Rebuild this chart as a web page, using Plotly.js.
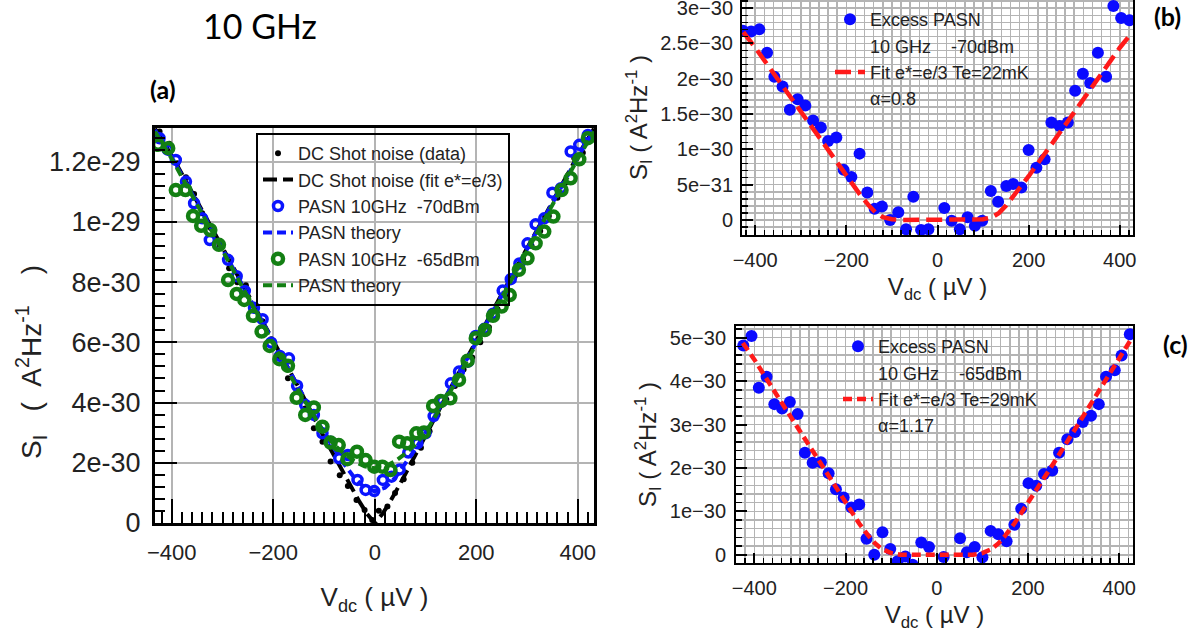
<!DOCTYPE html>
<html>
<head>
<meta charset="utf-8">
<script src="https://cdn.plot.ly/plotly-3.0.1.min.js"></script>
<style>html,body{margin:0;padding:0;background:#fff;}#chart{width:1196px;height:639px;}</style>
</head>
<body>
<div id="chart"></div>
<script>
// ---------- Panel (a): shot noise, values in units of 1e-30 A^2/Hz ----------
const dcDataV = [-424,-405,-389,-372,-356,-340,-323,-306,-287,-271,-254,-238,-221,-204,-187,-171,-154,-137,-120,-103,-87,-69,-53,-36,-20,-5,8,25,40,57,74,91,108,124,141,158,175,192,208,225,242,259,276,292,309,326,343,360,376,393,410,426];
const dcDataS = [13.0,12.6,11.95,11.48,10.93,10.29,9.8,9.25,8.46,8.0,7.9,7.2,6.7,6.1,5.5,4.81,4.4,3.8,3.15,2.7,2.04,1.59,1.23,0.76,0.43,0.1,0.41,0.55,1.0,1.45,2.0,2.5,3.05,3.6,4.1,4.55,5.1,5.5,6.0,6.5,7.1,7.6,8.2,8.76,9.2,9.7,10.2,10.8,11.3,12.12,12.3,12.9];
const dcFitV = [-433,-400,-300,-200,-150,-100,-70,-50,-30,-15,0,15,30,50,70,100,150,200,300,400,432];
const dcFitS = [13.1,12.2,9.15,6.05,4.5,2.85,1.9,1.3,0.7,0.3,0.0,0.3,0.7,1.3,1.95,2.9,4.5,6.05,9.15,12.2,13.1];
const pasn70V = [-424,-408,-392,-372,-356,-340,-325,-307,-289,-272,-256,-238,-221,-204,-187,-169,-153,-137,-120,-103,-87,-70,-53,-34,-18,-1,16,33,49,66,84,100,116,133,150,166,184,199,216,233,252,268,285,301,317,334,350,367,386,403,420];
const pasn70S = [12.78,12.40,12.06,11.34,10.62,10.12,9.40,9.24,8.74,8.20,7.71,7.15,6.77,5.99,5.55,5.47,4.56,3.92,3.59,2.98,2.70,2.15,2.26,1.43,1.10,1.06,1.43,1.54,1.78,2.34,2.65,2.98,3.55,4.05,4.64,5.03,5.36,6.21,6.45,6.95,7.72,8.10,8.62,9.29,9.92,10.12,10.97,11.12,12.34,12.56,12.89];
const theory70V = [-433,-400,-300,-200,-150,-100,-80,-60,-40,-20,0,20,40,60,80,100,150,200,300,400,432];
const theory70S = [13.05,12.15,9.1,6.0,4.5,3.0,2.45,1.95,1.5,1.17,1.05,1.17,1.5,1.95,2.45,3.0,4.5,6.0,9.1,12.15,13.05];
const pasn65V = [-427,-407,-392,-373,-358,-342,-324,-307,-289,-272,-257,-240,-223,-207,-188,-171,-154,-137,-120,-103,-87,-71,-54,-35,-18,-1,15,31,48,64,82,97,115,130,149,166,183,199,217,233,250,266,284,301,317,334,352,368,386,403,420];
const pasn65S = [12.56,12.45,11.06,11.06,10.20,9.87,9.73,9.24,8.07,7.61,7.41,6.88,6.36,5.88,5.44,5.22,4.16,3.59,3.84,3.20,2.67,2.59,2.12,2.37,2.09,1.87,1.87,1.76,2.70,2.65,2.98,3.01,3.89,4.05,4.14,4.75,5.39,6.14,6.41,6.88,7.19,7.57,8.41,8.79,9.29,9.68,10.18,11.06,11.45,12.08,12.78];
const theory65V = [-433,-400,-300,-200,-150,-100,-80,-60,-40,-20,0,20,40,60,80,100,150,200,300,400,432];
const theory65S = [13.0,12.1,9.05,5.95,4.4,3.0,2.6,2.3,2.05,1.88,1.82,1.88,2.05,2.3,2.6,3.0,4.4,5.95,9.05,12.1,13.0];
const aTickVals = [0,2,4,6,8,10,12];
const aTickText = ['0','2e-30','4e-30','6e-30','8e-30','1e-29','1.2e-29'];

// ---------- Panel (b): excess PASN -70 dBm ----------
const exc70V = [-427,-409,-391,-374,-358,-340,-324,-307,-290,-273,-256,-240,-222,-206,-189,-171,-154,-138,-122,-104,-86,-69,-53,-36,-20,15,31,49,66,82,98,117,133,151,166,184,200,217,235,250,268,286,302,319,335,352,370,386,403,421];
const exc70S = [2.68,2.67,2.70,2.37,2.03,1.89,1.56,1.71,1.62,1.41,1.31,1.12,1.17,0.71,0.61,0.94,0.39,0.16,0.19,0.0,0.11,-0.13,0.33,-0.14,-0.13,0.17,-0.01,-0.13,0.04,-0.08,-0.01,0.41,0.26,0.48,0.51,0.46,0.99,0.74,0.86,1.38,1.33,1.38,1.83,2.07,1.94,2.37,2.03,3.03,2.86,2.83];
const fit70V = [-426,-400,-350,-300,-250,-200,-170,-150,-135,-120,-100,-80,0,80,100,120,135,150,170,200,250,300,350,400,424];
const fit70S = [2.66,2.44,1.99,1.53,1.07,0.62,0.36,0.20,0.10,0.04,0.01,0.0,0.0,0.0,0.01,0.04,0.10,0.20,0.36,0.62,1.07,1.53,1.99,2.44,2.63];
const bTickVals = [0,0.5,1,1.5,2,2.5,3];
const bTickText = ['0','5e\u221231','1e\u221230','1.5e\u221230','2e\u221230','2.5e\u221230','3e\u221230'];

// ---------- Panel (c): excess PASN -65 dBm ----------
const exc65V = [-424,-406,-390,-373,-356,-339,-322,-305,-289,-272,-254,-237,-221,-204,-187,-170,-154,-137,-119,-102,-86,-69,-53,-34,-17,15,51,66,83,100,118,135,153,170,185,201,218,235,253,268,286,303,320,338,355,371,390,405,423];
const exc65S = [4.82,5.04,3.85,4.10,3.47,3.37,3.52,3.24,2.35,2.12,2.13,1.88,1.51,1.32,1.09,1.16,0.37,0.0,0.52,0.13,-0.15,-0.04,-0.23,0.28,0.18,-0.05,0.38,0.06,0.18,-0.06,0.55,0.47,0.31,0.69,1.06,1.65,1.59,1.86,1.94,2.35,2.66,2.83,3.06,3.20,3.47,4.10,4.25,4.59,5.08];
const fit65V = [-425,-400,-350,-300,-250,-200,-170,-150,-135,-120,-100,-80,0,80,100,120,135,150,170,200,250,300,350,400,425];
const fit65S = [4.88,4.50,3.67,2.84,2.01,1.19,0.72,0.44,0.26,0.13,0.04,0.0,0.0,0.0,0.04,0.13,0.26,0.44,0.72,1.19,2.01,2.84,3.67,4.50,4.95];
const cTickVals = [0,1,2,3,4,5];
const cTickText = ['0','1e\u221230','2e\u221230','3e\u221230','4e\u221230','5e\u221230'];

const FONT = 'Liberation Sans, Arial, sans-serif';
const TXT = '#222';
const GRID = '#b4b4b4';
const W = 1196, H = 639;
const px = v => v / W;
const py = v => 1 - v / H;
const NB = '\u00a0';

const traces = [
  {x: dcDataV, y: dcDataS, name: 'DC Shot noise (data)', mode: 'markers', type: 'scatter',
   marker: {color: 'black', size: 6}, xaxis: 'x', yaxis: 'y', legend: 'legend'},
  {x: dcFitV, y: dcFitS, name: 'DC Shot noise (fit e*=e/3)', mode: 'lines', type: 'scatter',
   line: {color: 'black', width: 4, dash: '14px,6px'}, xaxis: 'x', yaxis: 'y', legend: 'legend'},
  {x: pasn70V, y: pasn70S, name: 'PASN 10GHz' + NB + NB + '-70dBm', mode: 'markers', type: 'scatter',
   marker: {symbol: 'circle-open', color: '#0a14ff', size: 9, line: {width: 3.5, color: '#0a14ff'}}, xaxis: 'x', yaxis: 'y', legend: 'legend'},
  {x: theory70V, y: theory70S, name: 'PASN theory', mode: 'lines', type: 'scatter',
   line: {color: '#0a14ff', width: 4, dash: '9px,5px'}, xaxis: 'x', yaxis: 'y', legend: 'legend'},
  {x: pasn65V, y: pasn65S, name: 'PASN 10GHz' + NB + NB + '-65dBm', mode: 'markers', type: 'scatter',
   marker: {symbol: 'circle-open', color: '#137f13', size: 10, line: {width: 4.5, color: '#137f13'}}, xaxis: 'x', yaxis: 'y', legend: 'legend'},
  {x: theory65V, y: theory65S, name: 'PASN theory', mode: 'lines', type: 'scatter',
   line: {color: '#137f13', width: 4, dash: '9px,5px'}, xaxis: 'x', yaxis: 'y', legend: 'legend'},

  {x: exc70V, y: exc70S, name: 'Excess PASN', mode: 'markers', type: 'scatter',
   marker: {color: '#0a0aff', size: 12}, xaxis: 'x2', yaxis: 'y2', legend: 'legend2'},
  {x: [null], y: [null], name: '10 GHz' + NB + NB + NB + NB + '-70dBm', mode: 'lines', type: 'scatter',
   line: {width: 0, color: 'rgba(0,0,0,0)'}, xaxis: 'x2', yaxis: 'y2', legend: 'legend2', hoverinfo: 'skip'},
  {x: fit70V, y: fit70S, name: 'Fit e*=e/3 Te=22mK', mode: 'lines', type: 'scatter',
   line: {color: '#ff1a1a', width: 4.5, dash: '16px,7px'}, xaxis: 'x2', yaxis: 'y2', legend: 'legend2'},
  {x: [null], y: [null], name: '\u03b1=0.8', mode: 'lines', type: 'scatter',
   line: {width: 0, color: 'rgba(0,0,0,0)'}, xaxis: 'x2', yaxis: 'y2', legend: 'legend2', hoverinfo: 'skip'},

  {x: exc65V, y: exc65S, name: 'Excess PASN', mode: 'markers', type: 'scatter',
   marker: {color: '#0a0aff', size: 12}, xaxis: 'x3', yaxis: 'y3', legend: 'legend3'},
  {x: [null], y: [null], name: '10 GHz' + NB + NB + NB + NB + '-65dBm', mode: 'lines', type: 'scatter',
   line: {width: 0, color: 'rgba(0,0,0,0)'}, xaxis: 'x3', yaxis: 'y3', legend: 'legend3', hoverinfo: 'skip'},
  {x: fit65V, y: fit65S, name: 'Fit e*=e/3 Te=29mK', mode: 'lines', type: 'scatter',
   line: {color: '#ff1a1a', width: 4.5, dash: '9px,5px'}, xaxis: 'x3', yaxis: 'y3', legend: 'legend3'},
  {x: [null], y: [null], name: '\u03b1=1.17', mode: 'lines', type: 'scatter',
   line: {width: 0, color: 'rgba(0,0,0,0)'}, xaxis: 'x3', yaxis: 'y3', legend: 'legend3', hoverinfo: 'skip'}
];

function xAxisCommon(extra) {
  return Object.assign({
    tickmode: 'linear', tick0: 0, dtick: 200, ticks: 'inside', tickcolor: 'black',
    showgrid: true, gridcolor: GRID, zeroline: false, showline: true, linecolor: 'black',
    tickfont: {family: FONT, color: TXT}, ticklabeloverflow: 'allow'
  }, extra);
}

const layout = {
  width: W, height: H,
  margin: {l: 0, r: 0, t: 0, b: 0},
  paper_bgcolor: 'white', plot_bgcolor: 'white',
  showlegend: true,
  font: {family: FONT, color: TXT},
  xaxis: xAxisCommon({
    domain: [px(155), px(594)], range: [-433, 432], anchor: 'y',
    ticklen: 24, tickwidth: 2, gridwidth: 2, linewidth: 3, mirror: true,
    minor: {dtick: 20, tick0: 0, ticks: 'inside', ticklen: 11, tickwidth: 2, tickcolor: 'black', showgrid: false},
    tickfont: {family: FONT, color: TXT, size: 22}, ticklabelstandoff: 8,
    title: {text: 'V<sub>dc</sub> ( \u00b5V )', font: {size: 26, family: FONT, color: TXT}, standoff: 24}
  }),
  yaxis: {
    domain: [py(523), py(128)], range: [0, 13.12], anchor: 'x',
    tickmode: 'array', tickvals: aTickVals, ticktext: aTickText,
    ticks: 'inside', ticklen: 22, tickwidth: 2, tickcolor: 'black',
    minor: {dtick: 0.4, tick0: 0, ticks: 'inside', ticklen: 10, tickwidth: 2, tickcolor: 'black', showgrid: false},
    showgrid: true, gridcolor: GRID, gridwidth: 2, zeroline: false,
    showline: true, linecolor: 'black', linewidth: 3, mirror: true,
    tickfont: {family: FONT, color: TXT, size: 27}, ticklabelstandoff: 6, ticklabeloverflow: 'allow'
  },
  xaxis2: xAxisCommon({
    domain: [px(742), px(1133)], range: [-429, 429], anchor: 'y2',
    ticklen: 10, tickwidth: 2, gridwidth: 1.5, linewidth: 2, mirror: false,
    minor: {dtick: 20, tick0: 0, ticks: 'inside', ticklen: 5, tickwidth: 1.5, tickcolor: 'black', showgrid: true, gridcolor: GRID, gridwidth: 1.5},
    tickfont: {family: FONT, color: TXT, size: 20}, ticklabelstandoff: 6,
    title: {text: 'V<sub>dc</sub> ( \u00b5V )', font: {size: 24, family: FONT, color: TXT}, standoff: 8}
  }),
  yaxis2: {
    domain: [py(235), 1], range: [-0.2125, 3.116], anchor: 'x2',
    tickmode: 'array', tickvals: bTickVals, ticktext: bTickText,
    ticks: 'inside', ticklen: 11, tickwidth: 2, tickcolor: 'black',
    minor: {dtick: 0.1, tick0: 0, ticks: 'inside', ticklen: 6, tickwidth: 1.5, tickcolor: 'black', showgrid: true, gridcolor: GRID, gridwidth: 1.5},
    showgrid: true, gridcolor: GRID, gridwidth: 1.5, zeroline: false,
    showline: true, linecolor: 'black', linewidth: 2, mirror: true,
    tickfont: {family: FONT, color: TXT, size: 20}, ticklabelstandoff: 3, ticklabeloverflow: 'allow',
    title: {text: 'S<sub>I</sub> ( A<sup>2</sup>Hz<sup>-1</sup> )', font: {size: 24, family: FONT, color: TXT}, standoff: 6}
  },
  xaxis3: xAxisCommon({
    domain: [px(736), px(1133)], range: [-440, 430], anchor: 'y3',
    ticklen: 10, tickwidth: 2, gridwidth: 1.5, linewidth: 2, mirror: true,
    minor: {dtick: 20, tick0: 0, ticks: 'inside', ticklen: 5, tickwidth: 1.5, tickcolor: 'black', showgrid: true, gridcolor: GRID, gridwidth: 1.5},
    tickfont: {family: FONT, color: TXT, size: 20}, ticklabelstandoff: 6,
    title: {text: 'V<sub>dc</sub> ( \u00b5V )', font: {size: 24, family: FONT, color: TXT}, standoff: 8}
  }),
  yaxis3: {
    domain: [py(563), py(326)], range: [-0.19, 5.27], anchor: 'x3',
    tickmode: 'array', tickvals: cTickVals, ticktext: cTickText,
    ticks: 'inside', ticklen: 11, tickwidth: 2, tickcolor: 'black',
    minor: {dtick: 0.2, tick0: 0, ticks: 'inside', ticklen: 6, tickwidth: 1.5, tickcolor: 'black', showgrid: true, gridcolor: GRID, gridwidth: 1.5},
    showgrid: true, gridcolor: GRID, gridwidth: 1.5, zeroline: false,
    showline: true, linecolor: 'black', linewidth: 2, mirror: true,
    tickfont: {family: FONT, color: TXT, size: 20}, ticklabelstandoff: 4, ticklabeloverflow: 'allow',
    title: {text: 'S<sub>I</sub> ( A<sup>2</sup>Hz<sup>-1</sup> )', font: {size: 24, family: FONT, color: TXT}, standoff: 6}
  },
  legend: {
    x: px(256), y: py(133), xanchor: 'left', yanchor: 'top',
    bgcolor: 'rgba(0,0,0,0)', bordercolor: 'black', borderwidth: 2,
    font: {family: FONT, size: 18, color: TXT}, tracegroupgap: 0, itemsizing: 'trace'
  },
  legend2: {
    x: px(830), y: py(1), xanchor: 'left', yanchor: 'top',
    bgcolor: 'rgba(0,0,0,0)', borderwidth: 0,
    font: {family: FONT, size: 18, color: TXT}, tracegroupgap: 0
  },
  legend3: {
    x: px(838), y: py(328), xanchor: 'left', yanchor: 'top',
    bgcolor: 'rgba(0,0,0,0)', borderwidth: 0,
    font: {family: FONT, size: 18, color: TXT}, tracegroupgap: 0
  },
  annotations: [
    {text: 'S<sub>I</sub>' + NB + NB + NB + '(' + NB + NB + 'A<sup>2</sup>Hz<sup>-1</sup>' + NB + NB + NB + NB + ')',
     x: px(31), y: py(362), xref: 'paper', yref: 'paper', showarrow: false, textangle: -90,
     xanchor: 'center', yanchor: 'middle', font: {family: FONT, size: 28, color: TXT}},
    {text: '10 GHz', x: px(260), y: py(25), xref: 'paper', yref: 'paper', showarrow: false,
     xanchor: 'center', yanchor: 'middle', font: {family: 'Lato, Liberation Sans, sans-serif', size: 34, color: 'black'}},
    {text: '<b>(a)</b>', x: px(163), y: py(89), xref: 'paper', yref: 'paper', showarrow: false,
     xanchor: 'center', yanchor: 'middle', font: {family: 'Lato, Liberation Sans, sans-serif', size: 25, color: 'black'}},
    {text: '<b>(b)</b>', x: px(1167), y: py(16), xref: 'paper', yref: 'paper', showarrow: false,
     xanchor: 'center', yanchor: 'middle', font: {family: 'Lato, Liberation Sans, sans-serif', size: 25, color: 'black'}},
    {text: '<b>(c)</b>', x: px(1175), y: py(344), xref: 'paper', yref: 'paper', showarrow: false,
     xanchor: 'center', yanchor: 'middle', font: {family: 'Lato, Liberation Sans, sans-serif', size: 25, color: 'black'}}
  ]
};

Plotly.newPlot('chart', traces, layout, {displayModeBar: false, staticPlot: true});
</script>
</body>
</html>
